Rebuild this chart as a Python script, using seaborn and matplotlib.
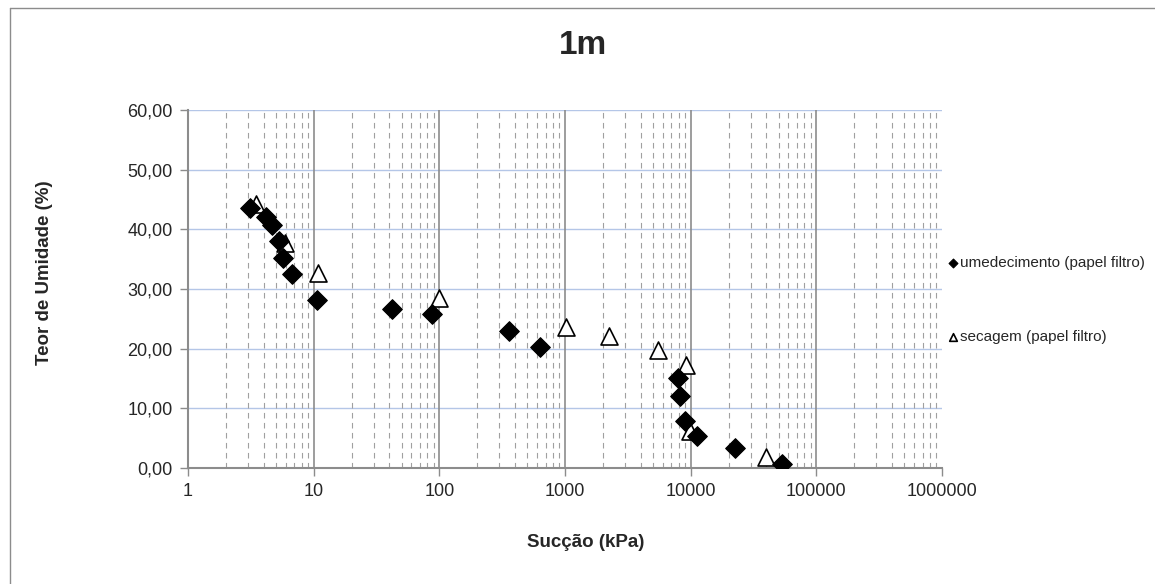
import numpy as np
import pandas as pd
import seaborn as sns
import matplotlib.pyplot as plt
from matplotlib.ticker import FixedLocator, FuncFormatter, NullFormatter

# dados
suc_umed = [3.1, 4.2, 4.7, 5.3, 5.7, 6.7, 10.6, 42, 87, 358, 631, 7900, 8200, 9000, 11200, 22500, 53200]
teor_umed = [43.6, 42.1, 40.7, 38.0, 35.2, 32.5, 28.2, 26.6, 25.8, 23.0, 20.3, 15.1, 12.1, 7.9, 5.4, 3.35, 0.7]
suc_sec = [3.5, 5.9, 10.8, 99, 1016, 2230, 5480, 9160, 9860, 39700]
teor_sec = [44.2, 37.7, 32.7, 28.5, 23.6, 22.1, 19.8, 17.3, 6.2, 1.8]
x_ticks = [1, 10, 100, 1000, 10000, 100000, 1000000]
y_ticks = [0, 10, 20, 30, 40, 50, 60]

sns.set_style('white')
plt.rcParams['font.family'] = ['Liberation Sans', 'DejaVu Sans']

fig = plt.figure(figsize=(11.55, 5.84), dpi=100)
ax = fig.add_axes([0.1628, 0.1986, 0.6528, 0.613])

df_u = pd.DataFrame({'x': suc_umed, 'y': teor_umed})
df_s = pd.DataFrame({'x': suc_sec, 'y': teor_sec})
sns.scatterplot(data=df_s, x='x', y='y', ax=ax, marker='^', s=150, facecolor='white',
                edgecolor='black', linewidth=1.2, label='secagem (papel filtro)', zorder=3)
sns.scatterplot(data=df_u, x='x', y='y', ax=ax, marker='D', s=100, color='black',
                edgecolor='black', label='umedecimento (papel filtro)', zorder=4)

ax.set_xscale('log')
ax.set_xlim(1, 1e6)
ax.set_ylim(0, 60)
ax.xaxis.set_major_locator(FixedLocator(x_ticks))
ax.xaxis.set_major_formatter(FuncFormatter(lambda v, p: f'{int(round(v))}'))
minor = [m * 10 ** d for d in range(6) for m in range(2, 10)]
ax.xaxis.set_minor_locator(FixedLocator(minor))
ax.xaxis.set_minor_formatter(NullFormatter())
ax.set_yticks(y_ticks)
ax.yaxis.set_major_formatter(FuncFormatter(lambda v, p: f'{v:.2f}'.replace('.', ',')))

# grades
ax.grid(False)
for v in y_ticks[1:]:
    ax.axhline(v, color='#b4c6e7', lw=1, zorder=1)
for v in x_ticks[1:-1]:
    ax.axvline(v, color='#8c8c8c', lw=1.2, zorder=1)
for v in minor:
    ax.axvline(v, color='#a0a0a0', lw=0.8, ls=(0, (5, 4)), zorder=1)

for s in ['top', 'right']:
    ax.spines[s].set_visible(False)
for s in ['left', 'bottom']:
    ax.spines[s].set_color('#8c8c8c')
    ax.spines[s].set_linewidth(1.5)
ax.tick_params(axis='both', which='major', direction='out', length=6, width=1,
               color='#8c8c8c', labelsize=13, bottom=True, left=True)
ax.tick_params(axis='x', which='minor', bottom=False)
ax.tick_params(axis='x', pad=5)
ax.tick_params(axis='y', pad=5)

ax.set_xlabel('Sucção (kPa)', fontsize=13.5, fontweight='bold', va='center')
ax.xaxis.set_label_coords(0.528, -0.207)
ax.set_ylabel('Teor de Umidade (%)', fontsize=13.5, fontweight='bold', va='center')
ax.yaxis.set_label_coords(-0.19, 0.545)
fig.text(583 / 1155, 1 - 45 / 584, '1m', ha='center', va='center', fontsize=24, fontweight='bold')

h, l = ax.get_legend_handles_labels()
leg = ax.legend(h[::-1], l[::-1], loc='center left', bbox_to_anchor=(1.0, 0.47), frameon=False,
                fontsize=11, markerscale=0.45, handletextpad=0.1, handlelength=0.7,
                labelspacing=3.9, borderaxespad=0.0)

# moldura
fig.add_artist(plt.Line2D([0.0087, 1.0], [0.986, 0.986], color='#8c8c8c', lw=1))
fig.add_artist(plt.Line2D([0.0087, 0.0087], [0.0, 0.986], color='#8c8c8c', lw=1))

fig.savefig('out.png', dpi=100)
